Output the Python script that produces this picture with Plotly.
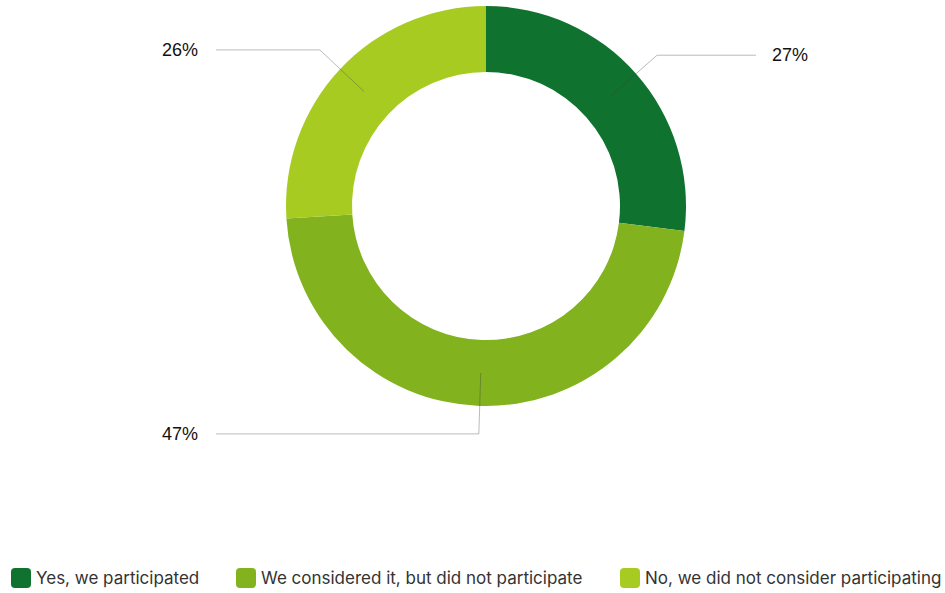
import math
import plotly.graph_objects as go

# Survey answers and their shares (percent)
categories = ["Yes, we participated",
              "We considered it, but did not participate",
              "No, we did not consider participating"]
shares = [27, 47, 26]
colors = ["#10722f", "#82b21e", "#a8cb22"]

W, H = 945, 593
cx, cy = 486, 206          # ring centre in pixels
r_out = 200
hole = 0.67
r_in = r_out * hole
r_mid = (r_out + r_in) / 2
r_elbow = 228
col_offset = 270           # horizontal distance of label columns from centre

fig = go.Figure()

fig.add_trace(go.Pie(
    labels=categories,
    values=shares,
    hole=hole,
    sort=False,
    direction="clockwise",
    rotation=0,
    marker=dict(colors=colors, line=dict(width=0)),
    textinfo="none",
    hoverinfo="skip",
    showlegend=False,
    domain=dict(x=[(cx - r_out) / W, (cx + r_out) / W],
                y=[1 - (cy + r_out) / H, 1 - (cy - r_out) / H]),
))

# Leader lines and percentage labels computed from the slice angles
total = sum(shares)
start = 0.0
annotations = []
shapes = []
for cat, val in zip(categories, shares):
    frac = val / total
    mid = (start + frac / 2) * 2 * math.pi
    start += frac
    sx, sy = cx + r_mid * math.sin(mid), cy - r_mid * math.cos(mid)
    ex, ey = cx + r_elbow * math.sin(mid), cy - r_elbow * math.cos(mid)
    right = math.sin(mid) > 0
    lx = cx + col_offset if right else cx - col_offset
    shapes.append(dict(
        type="path", path=f"M{sx},{sy} L{ex},{ey} L{lx},{ey}",
        xref="x", yref="y", layer="above",
        line=dict(color="rgba(60,60,60,0.35)", width=1),
    ))
    annotations.append(dict(
        x=lx + (14 if right else -16), y=ey, xref="x", yref="y",
        text=f"{val}%", showarrow=False,
        xanchor="left" if right else "right", yanchor="middle",
        font=dict(family="Liberation Sans, Arial", size=18, color="#111111"),
    ))

# Legend drawn as rounded swatches with text
legend_x = [11, 236, 620]
legend_y = 578
sw = 20
rad = 4
for lxp, col, cat in zip(legend_x, colors, categories):
    x0, x1 = lxp, lxp + sw
    y0, y1 = legend_y - sw / 2, legend_y + sw / 2
    path = (f"M{x0 + rad},{y0} L{x1 - rad},{y0} Q{x1},{y0} {x1},{y0 + rad} "
            f"L{x1},{y1 - rad} Q{x1},{y1} {x1 - rad},{y1} "
            f"L{x0 + rad},{y1} Q{x0},{y1} {x0},{y1 - rad} "
            f"L{x0},{y0 + rad} Q{x0},{y0} {x0 + rad},{y0} Z")
    shapes.append(dict(type="path", path=path, xref="x", yref="y",
                       fillcolor=col, line=dict(width=0)))
    annotations.append(dict(
        x=x1 + 3, y=legend_y, xref="x", yref="y", text=cat, showarrow=False,
        xanchor="left", yanchor="middle",
        font=dict(family="Inter, Roboto, sans-serif", size=17, color="#333333"),
    ))

fig.update_layout(
    width=W, height=H,
    margin=dict(l=0, r=0, t=0, b=0),
    paper_bgcolor="white", plot_bgcolor="rgba(0,0,0,0)",
    xaxis=dict(range=[0, W], visible=False, fixedrange=True, domain=[0, 1]),
    yaxis=dict(range=[H, 0], visible=False, fixedrange=True, domain=[0, 1]),
    shapes=shapes,
    annotations=annotations,
    showlegend=False,
)

fig.write_html("out.html")
